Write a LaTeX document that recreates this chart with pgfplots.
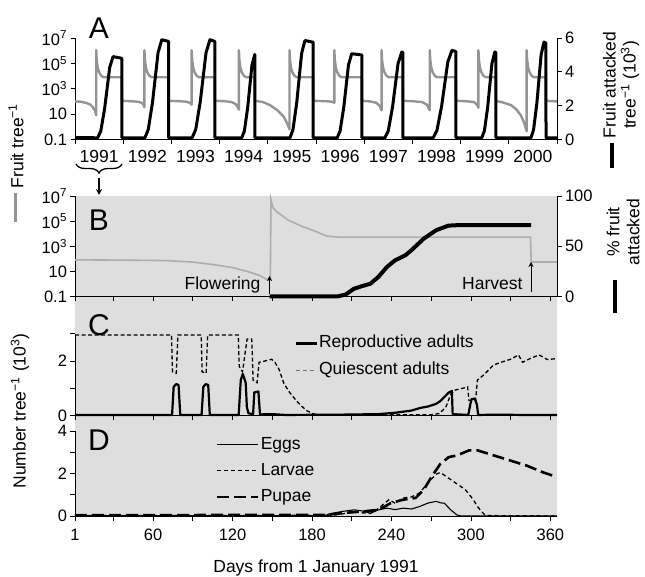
\documentclass[border=0pt]{standalone}
\usepackage{pgfplots}
\pgfplotsset{compat=1.18}
\usepackage{fontspec}
\setmainfont{Liberation Sans}
\usetikzlibrary{arrows.meta,decorations.pathreplacing}
\newcommand{\tf}{\fontsize{16.5}{19}\selectfont}
\newcommand{\lf}{\fontsize{17.5}{20}\selectfont}
\newcommand{\bigf}{\fontsize{30}{30}\selectfont}
\definecolor{gA}{gray}{0.58}
\definecolor{gB}{gray}{0.68}
\definecolor{shade}{gray}{0.87}
\pgfplotsset{
  base/.style={scale only axis, width=482pt, anchor=south west,
    tick align=outside, major tick length=4.5pt,
    tick style={black, line width=0.8pt},
    axis line style={-, black, line width=0.9pt},
    tick label style={font=\tf},
    yminorticks=false, xminorticks=false, clip=false},
  dayx/.style={xmin=1, xmax=365, xtick={1,30,60,90,120,150,180,210,240,270,300,330,360}},
}
\begin{document}
\begin{tikzpicture}
\useasboundingbox (0pt,-577pt) rectangle (645pt,0pt);

% ---------------- Panel D ----------------
\begin{axis}[base, dayx, height=100.5pt, at={(75pt,-516pt)},
  ymin=0, ymax=4.73, axis background/.style={fill=shade},
  axis x line*=bottom, axis y line*=left, y axis line style={draw=none},
  xticklabels={1,,60,,120,,180,,240,,300,,360},
  xticklabel style={yshift=-5pt},
  ytick={0,1,2,3,4}, yticklabels={0,,2,,4},
  xlabel={Days from 1 January 1991}, xlabel style={font=\lf, yshift=-12pt},
  legend style={draw=none, fill=none, at={(0.2925,0.80)}, anchor=north west,
    font=\lf, row sep=8pt, inner sep=0pt, nodes={inner sep=1pt, text height=12.5pt, text depth=3.5pt}},
  legend cell align=left,
  legend image code/.code={\draw[#1] (0pt,0pt) -- (41pt,0pt);}]
\draw[black, line width=0.9pt] (axis cs:1,0) -- (axis cs:1,4);
\addplot[black, line width=1.1pt] table {
1 0.01
190 0.02
193 0.1
202.4 0.21
211.6 0.29
217.8 0.24
224.1 0.13
230.3 0.29
236.5 0.37
242.7 0.3
248.9 0.37
255.2 0.33
261.4 0.45
267.6 0.61
273.8 0.69
277 0.62
280 0.6
284.7 0.29
289.4 0.05
292.5 0.0
365 0.0
};
\addplot[black, line width=1.3pt, dash pattern=on 4pt off 3pt] table {
1 0.02
195 0.03
205 0.12
211.6 0.2
218 0.15
224 0.12
230 0.35
235 0.61
238.1 0.77
242.7 0.6
248.9 0.85
255.2 0.9
261.4 1.09
267.6 1.57
273.8 1.97
276.9 2.05
286.2 1.65
295.6 1.25
301.8 0.77
304.9 0.45
308 0.21
311.1 0.02
365 0.0
};
\addplot[black, line width=2.6pt, dash pattern=on 12pt off 5pt] table {
1 0.04
190 0.05
205 0.15
217.8 0.21
230.3 0.29
239.6 0.61
248.9 0.77
258.3 0.85
264.5 1.25
270.7 1.89
276.9 2.45
283.2 2.77
289.4 2.85
298.7 3.09
304.9 3.09
317.3 2.85
329.7 2.61
342.2 2.37
354.6 2.05
362.4 1.89
};
\legend{Eggs,Larvae,Pupae}
\end{axis}

% ---------------- Panel C ----------------
\begin{axis}[base, dayx, height=119pt, at={(75pt,-415.5pt)},
  ymin=0, ymax=4.36, axis background/.style={fill=shade},
  axis x line*=bottom, axis y line*=left, y axis line style={draw=none},
  xticklabels={,,,,,,,,,,,,},
  ytick={0,1,2,3}, yticklabels={0,,2,},
  legend style={draw=none, fill=none, at={(0.454,0.685)}, anchor=north west,
    font=\lf, row sep=9pt, inner sep=0pt, nodes={inner sep=1pt, text height=12.5pt, text depth=3.5pt}},
  legend cell align=left,
  legend image code/.code={\draw[#1] (0pt,0pt) -- (21pt,0pt);}]
\draw[black, line width=0.9pt] (axis cs:1,0) -- (axis cs:1,3);
\addplot[black, line width=1.3pt, dash pattern=on 4pt off 2.5pt, forget plot] table {
1 2.95
73.9 2.95
74.6 1.6
77.5 1.55
78.7 2.95
96.3 2.95
97 1.6
100 1.55
101.2 2.95
124.3 2.95
125 1.8
127.5 1.6
129.5 2.3
131 2.8
134.5 2.8
135.5 1.3
138.5 1.2
140 1.95
143 1.98
149.5 2.06
152 1.95
155 1.7
158.8 1.17
163 0.85
168 0.55
172 0.35
176 0.18
180 0.08
184 0.02
230 0.02
270 0.03
276 0.07
281 0.3
285 0.8
288 0.93
295.6 1.02
297.5 1.05
298.5 0.55
303.5 0.55
304.9 1.3
310 1.5
317 1.85
324 1.97
330 2.06
335.9 2.22
339 1.95
345.3 2.1
351.5 2.22
357.7 2.05
364 2.08
};
\addplot[black, line width=2.2pt, line join=round, forget plot] table {
1 0.02
74.3 0.02
75.5 1.05
77.4 1.15
79.2 1.12
80.5 0.02
96.6 0.02
97.9 1.05
99.7 1.15
101.6 1.12
102.8 0.02
124.6 0.02
126.2 1.3
127.7 1.52
129.9 1.2
130.8 0.3
132 0.08
135.5 0.05
136.4 0.85
139.5 0.88
140.7 0.04
150 0.05
160 0.02
200 0.03
230 0.05
242.7 0.1
255 0.18
262 0.28
267.6 0.33
273.8 0.43
276.9 0.53
280 0.68
283.2 0.84
285.6 0.9
286.2 0.05
298 0.02
299.5 0.4
300.5 0.6
303 0.62
304.5 0.4
305.5 0.02
320 0.03
340 0.02
365 0.02
};
\addlegendimage{black, line width=3pt}
\addlegendentry{Reproductive adults}
\addlegendimage{black!55, line width=1.2pt, dash pattern=on 4pt off 3pt}
\addlegendentry{Quiescent adults}
\end{axis}

% ---------------- Panel B ----------------
\begin{axis}[base, dayx, height=100.5pt, at={(75pt,-296.5pt)},
  ymode=log, ymin=0.1, ymax=1e7, axis background/.style={fill=shade},
  axis x line*=bottom, axis y line*=left,
  xticklabels={,,,,,,,,,,,,},
  ytick={0.1,10,1000,100000,1e7},
  yticklabels={0.1,10,10\textsuperscript{3},10\textsuperscript{5},10\textsuperscript{7}}]
\addplot[gB, line width=1.6pt] table {
1 83
40 78
70 72
90 55
106 34
120 20
131 10
140 5
147 2
148.5 2
149 5e6
150.5 1.2e6
153 6e5
162 1.2e5
172 4e4
181 1.8e4
191 6500
200 5300
345 5300
345.5 56
365 56
};
\end{axis}
\begin{axis}[base, dayx, height=100.5pt, at={(75pt,-296.5pt)},
  ymin=0, ymax=100, axis x line=none, axis y line*=right,
  ytick={0,50,100}, yticklabels={0,50,100}]
\addplot[black, line width=4pt] table {
148 0
199 0
205.4 2
211.6 7.7
217 10
224 12.7
230 19.3
236.5 29.3
242.7 36
250.5 41
255 46
264.5 57.7
273.8 66
283 70.5
290 71
345.5 71
};
\end{axis}

% ---------------- Panel A ----------------
\begin{axis}[base, height=101.5pt, at={(75pt,-139.5pt)},
  xmin=0, xmax=10, ymode=log, ymin=0.1, ymax=1e7,
  axis x line*=bottom, axis y line*=left,
  xtick={0,1,2,3,4,5,6,7,8,9,10}, xticklabels={,,,,,,,,,,},
  extra x ticks={0.5,1.5,2.5,3.5,4.5,5.5,6.5,7.5,8.5,9.5},
  extra x tick labels={1991,1992,1993,1994,1995,1996,1997,1998,1999,2000},
  extra x tick style={major tick length=0pt, tick style={draw=none}, xticklabel style={yshift=-7pt, font=\lf}},
  ytick={0.1,10,1000,100000,1e7},
  yticklabels={0.1,10,10\textsuperscript{3},10\textsuperscript{5},10\textsuperscript{7}}]
\addplot[gA, line width=2.4pt, line join=round] table {
0.00 100
0.12 95
0.24 75
0.32 56
0.38 32
0.42 16
0.44 8
0.4401 1.1e6
0.45 2e5
0.47 5e4
0.50 2e4
0.54 1.1e4
0.59 8000
0.97 8000
0.972 112
1.15 105
1.30 95
1.38 79
1.42 56
1.44 35
1.4401 1.1e6
1.45 2e5
1.47 5e4
1.50 2e4
1.54 1.1e4
1.59 8000
1.94 8000
1.942 112
2.15 105
2.30 95
2.38 79
2.42 56
2.4201 1.1e6
2.43 2e5
2.45 5e4
2.48 2e4
2.52 1.1e4
2.57 8000
2.90 8000
2.902 112
3.10 105
3.25 89
3.33 63
3.38 35
3.40 22
3.4001 1.1e6
3.41 2e5
3.43 5e4
3.46 2e4
3.50 1.1e4
3.55 8000
3.73 8000
3.732 112
3.90 89
4.05 50
4.20 20
4.33 6.3
4.41 1.6
4.45 0.63
4.4501 1.1e6
4.46 2e5
4.48 5e4
4.51 2e4
4.55 1.1e4
4.60 8000
4.94 8000
4.942 112
5.20 105
5.33 95
5.38 79
5.3801 1.1e6
5.39 2e5
5.41 5e4
5.44 2e4
5.48 1.1e4
5.53 8000
5.95 8000
5.952 112
6.12 100
6.25 79
6.32 45
6.36 20
6.3601 1.1e6
6.37 2e5
6.39 5e4
6.42 2e4
6.46 1.1e4
6.51 8000
6.80 8000
6.802 112
7.00 105
7.20 89
7.30 56
7.36 20
7.3601 1.1e6
7.37 2e5
7.39 5e4
7.42 2e4
7.46 1.1e4
7.51 8000
7.90 8000
7.902 112
8.10 105
8.28 89
8.34 56
8.37 32
8.3701 1.1e6
8.38 2e5
8.40 5e4
8.43 2e4
8.47 1.1e4
8.52 8000
8.73 8000
8.732 112
8.90 79
9.05 50
9.15 25
9.25 8
9.32 2
9.37 0.45
9.3701 1.1e6
9.38 2e5
9.40 5e4
9.43 2e4
9.47 1.1e4
9.52 8000
9.77 8000
9.772 112
10.0 100
};
\end{axis}
\begin{axis}[base, height=101.5pt, at={(75pt,-139.5pt)},
  xmin=0, xmax=10, ymin=0, ymax=6, axis x line=none, axis y line*=right,
  ytick={0,2,4,6}, yticklabels={0,2,4,6}]
\addplot[black, line width=3pt, line join=round] table {
0.00 0.12
0.47 0.1
0.534 0.49
0.614 1.81
0.72 4.26
0.79 4.9
0.97 4.8
0.972 0.1
1.45 0.1
1.52 0.59
1.6075 2.18
1.723 5.13
1.80 5.9
1.94 5.8
1.942 0.1
2.43 0.1
2.504 0.59
2.5965 2.18
2.7186 5.13
2.80 5.9
2.90 5.8
2.902 0.1
3.46 0.1
3.514 0.50
3.5815 1.86
3.6706 4.38
3.73 5.03
3.732 0.1
4.46 0.1
4.522 0.585
4.5995 2.16
4.7018 5.09
4.77 5.85
4.94 5.75
4.942 0.1
5.44 0.1
5.50 0.51
5.575 1.88
5.674 4.41
5.74 5.07
5.95 5.0
5.952 0.1
6.43 0.1
6.50 0.52
6.5875 1.91
6.703 4.5
6.78 5.17
6.80 5.15
6.802 0.1
7.43 0.1
7.508 0.53
7.6055 1.95
7.7342 4.58
7.82 5.27
7.90 5.2
7.902 0.1
8.44 0.1
8.494 0.52
8.5615 1.91
8.6506 4.5
8.71 5.17
8.73 5.15
8.732 0.1
9.46 0.1
9.514 0.58
9.5815 2.13
9.6706 5.01
9.73 5.76
9.77 5.7
9.772 0.1
10.0 0.1
};
\end{axis}

% ---------------- Annotations ----------------
\node[font=\bigf] at (99pt,-28pt) {A};
\node[font=\bigf] at (99pt,-220pt) {B};
\node[font=\bigf] at (99pt,-325pt) {C};
\node[font=\bigf] at (99pt,-440pt) {D};

\draw[line width=1.3pt, decorate, decoration={brace, mirror, amplitude=9pt}] (76pt,-164pt) -- (122pt,-164pt);
\draw[-{Stealth[length=6pt,width=6pt]}, line width=1.3pt] (99pt,-178pt) -- (99pt,-195pt);

\node[font=\lf, anchor=east] at (264pt,-285pt) {Flowering};
\draw[-{Stealth[length=5pt,width=5pt]}, line width=1pt] (269.5pt,-294pt) -- (269.5pt,-276pt);
\node[font=\lf, anchor=east] at (526pt,-284pt) {Harvest};
\draw[-{Stealth[length=5pt,width=5pt]}, line width=1pt] (531pt,-292pt) -- (531pt,-262pt);

\node[rotate=90, font=\lf] at (16pt,-146pt) {Fruit tree\textsuperscript{−1}};
\draw[gA, line width=3pt] (15.5pt,-193pt) -- (15.5pt,-222pt);
\node[rotate=90, font=\lf] at (20pt,-411pt) {Number tree\textsuperscript{−1} (10\textsuperscript{3})};
\node[rotate=90, font=\lf, align=center] at (621pt,-85pt) {Fruit attacked\\tree\textsuperscript{−1} (10\textsuperscript{3})};
\draw[black, line width=4pt] (612pt,-143pt) -- (612pt,-168pt);
\node[rotate=90, font=\lf, align=center] at (623pt,-232pt) {\% fruit\\attacked};
\draw[black, line width=4.5pt] (615pt,-280pt) -- (615pt,-313pt);
\end{tikzpicture}
\end{document}
